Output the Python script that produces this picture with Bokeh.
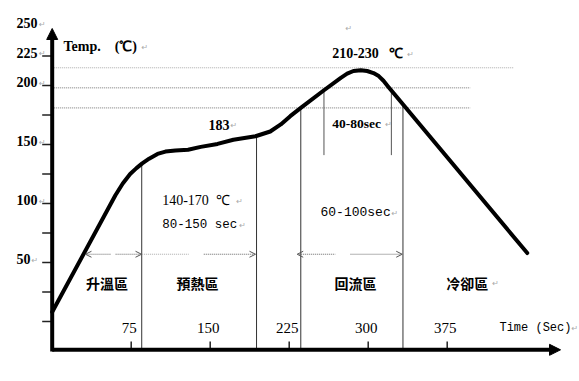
import numpy as np
from bokeh.plotting import figure
from bokeh.models import Range1d, Arrow, NormalHead, OpenHead, ColumnDataSource
from bokeh.core.properties import value
from bokeh.embed import file_html
from bokeh.resources import INLINE

# ---------------- data ----------------
time_s = [0, 60, 67, 74, 80, 85.5, 92, 100, 107.5, 117, 129, 141, 157, 172, 193, 207,
          217, 226, 236, 258, 274, 280, 286, 293, 299, 305, 310, 314.5, 319, 325, 451]
temp_c = [8, 107, 117, 125, 130, 134, 138, 142, 144, 145, 145.5, 148, 150.5, 154, 157, 161,
          167, 174, 181, 196, 206.5, 210, 212.3, 213, 212.3, 210.5, 208, 204, 199, 192.5, 58]

x_ticks = [75, 150, 225, 300, 375]
x_tick_labels = ["75", "150", "225", "300", "375"]
y_ticks = [0, 25, 50, 75, 100, 125, 150, 175, 200, 225]
y_label_values = [250, 225, 200, 150, 100, 50]

ref_levels = [215, 198, 181]          # dotted horizontal guide lines
ref_ends = [438, 397, 397]
zone_bounds = [85, 194, 236, 333]     # zone boundaries (s)
tal_marks = [258, 322]                # time-above-liquidus markers (s)
tal_bottom = 141
zone_names = ["升溫區", "預熱區", "回流區", "冷卻區"]
zone_label_x = [52, 138, 288, 394]
zone_label_y = 32.5
arrow_y = 57
# dotted span arrows: (from, to, head at start, head at end, colour)
span_pieces = [(31.6, 55.5, True, False, "#666"), (60.2, 84.8, False, True, "#666"),
               (85.4, 129.7, False, False, "#aaa"), (143.9, 193.0, False, True, "#666"),
               (232.6, 268.9, True, False, "#666"), (283.2, 332.3, False, True, "#666")]

x_axis_end = 482.6
y_axis_end = 248.3
axis_origin_y = -24

# ---------------- figure ----------------
W, H = 579, 381
p = figure(width=W, height=H, output_backend="svg", toolbar_location=None,
           x_range=Range1d(-49.08, 500.6), y_range=Range1d(-50.85, 272.03),
           x_axis_location=None, y_axis_location=None, title=None)
p.min_border = 0
p.min_border_left = p.min_border_right = p.min_border_top = p.min_border_bottom = 0
p.outline_line_color = None
p.grid.visible = False
p.background_fill_color = "white"
p.border_fill_color = "white"

# guide lines
for lv, xe, col in zip(ref_levels, ref_ends, ["#aaa", "#777", "#777"]):
    p.line([0, xe], [lv, lv], line_color=col, line_width=1, line_dash="1 1")

# zone boundaries
tops = np.interp(zone_bounds, time_s, temp_c)
p.segment(x0=zone_bounds, y0=list(tops), x1=zone_bounds, y1=[axis_origin_y] * len(zone_bounds),
          line_color="#333", line_width=1)
tal_tops = np.interp(tal_marks, time_s, temp_c)
p.segment(x0=tal_marks, y0=list(tal_tops), x1=tal_marks, y1=[tal_bottom] * len(tal_marks),
          line_color="#555", line_width=1)

# span arrows
for a, b, hs, he, col in span_pieces:
    p.add_layout(Arrow(x_start=a, y_start=arrow_y, x_end=b, y_end=arrow_y,
                       line_color=col, line_width=1, line_dash="1 1",
                       start=OpenHead(size=6, line_color="#555", line_width=1) if hs else None,
                       end=OpenHead(size=6, line_color="#555", line_width=1) if he else None))

# profile curve
p.line(time_s, temp_c, line_color="black", line_width=4, line_join="round", line_cap="round")

# axes
p.add_layout(Arrow(x_start=0, y_start=axis_origin_y, x_end=x_axis_end, y_end=axis_origin_y,
                   line_color="black", line_width=4,
                   end=NormalHead(size=11, fill_color="black", line_color="black")))
p.add_layout(Arrow(x_start=0, y_start=axis_origin_y - 1.5, x_end=0, y_end=y_axis_end,
                   line_color="black", line_width=4,
                   end=NormalHead(size=11, fill_color="black", line_color="black")))
p.segment(x0=[-9.5] * len(y_ticks), y0=y_ticks, x1=[0] * len(y_ticks), y1=y_ticks,
          line_color="#222", line_width=1.5)
p.segment(x0=x_ticks, y0=[axis_origin_y] * len(x_ticks), x1=x_ticks,
          y1=[axis_origin_y + 7] * len(x_ticks), line_color="#222", line_width=1.5)

SERIF = value("Liberation Serif")
MONO = value("Liberation Mono")
CJK = value("Noto Sans CJK TC")
MARK_COLOR = "#aaa"
NB = "\u00a0"

# y labels
ylab = ColumnDataSource(dict(x=[-33.9] * len(y_label_values), y=y_label_values,
                             t=[str(v) for v in y_label_values]))
p.text(x="x", y="y", text="t", source=ylab, text_font=SERIF, text_font_size="14px",
       text_font_style="bold", text_baseline="middle", text_align="left", y_offset=-3)
for v in y_label_values:
    p.text(x=[-33.9], y=[v], text=["↵"], text_font=value("DejaVu Sans"), text_font_size="8px",
           text_color=MARK_COLOR, text_baseline="middle", x_offset=len(str(v)) * 7.3 + 0.5, y_offset=-2)

# x tick labels
p.text(x=x_ticks, y=[-5.5] * len(x_ticks), text=x_tick_labels, text_font=SERIF,
       text_font_size="15px", text_align="center", text_baseline="middle", x_offset=-2)

# annotations: text, x, y, font, size, style, mark offset (px)
annotations = [
    ("Temp.\u3000(℃)", 10.7, 233.1, SERIF, "14px", "bold", 78),
    ("210-230" + NB * 3 + "℃", 265.8, 227.1, SERIF, "14px", "bold", 75),
    ("183", 148.4, 166.9, SERIF, "14px", "bold", 22),
    ("40-80sec", 265.8, 167.8, SERIF, "13.5px", "bold", 53),
    ("140-170" + NB * 2 + "℃", 104.4, 102.5, SERIF, "14px", "normal", 74),
    ("80-150 sec", 104.4, 82.2, MONO, "12.5px", "normal", 77),
    ("60-100sec", 254.7, 92.4, MONO, "13px", "normal", 71),
    ("Time (Sec)", 424.6, -5.5, MONO, "12px", "normal", 72),
]
for t, x, y, f, s, st, dx in annotations:
    p.text(x=[x], y=[y], text=[t], text_font=f, text_font_size=s, text_font_style=st,
           text_align="left", text_baseline="middle", text_color="black")
    p.text(x=[x], y=[y], text=["↵"], text_font=value("DejaVu Sans"), text_font_size="8px",
           text_color=MARK_COLOR, text_baseline="middle", x_offset=dx, y_offset=1)

# zone names
p.text(x=zone_label_x, y=[zone_label_y] * 4, text=zone_names, text_font=CJK,
       text_font_size="14px", text_font_style="bold", text_align="center", text_baseline="middle")
p.text(x=[zone_label_x[3]], y=[zone_label_y], text=["↵"], text_font=value("DejaVu Sans"),
       text_font_size="8px", text_color=MARK_COLOR, text_baseline="middle", x_offset=25)
# stray paragraph mark
p.text(x=[278.5], y=[248.0], text=["↵"], text_font=value("DejaVu Sans"), text_font_size="8px",
       text_color=MARK_COLOR, text_baseline="middle")

open("out.html", "w").write(file_html(p, INLINE))
